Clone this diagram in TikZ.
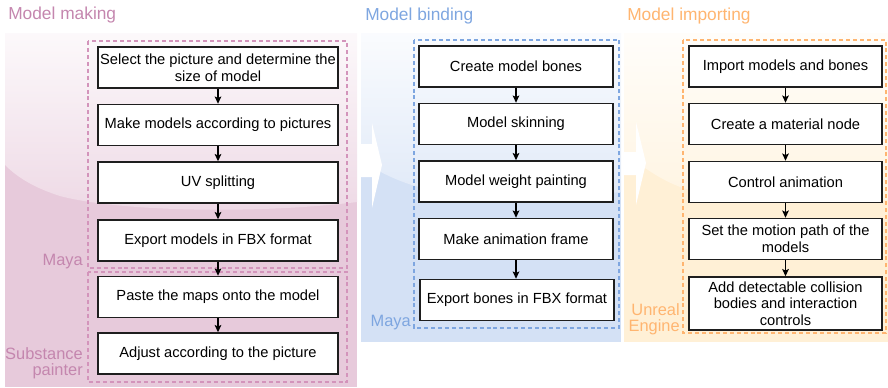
\documentclass[tikz,border=0pt]{standalone}
\usepackage{fontspec}
\setmainfont{Liberation Sans}
\usetikzlibrary{arrows.meta}
\definecolor{pinkbase}{HTML}{E7CADB}
\definecolor{bluebase}{HTML}{D4E1F5}
\definecolor{orangebase}{HTML}{FFF0D6}
\definecolor{pinktext}{HTML}{C486AE}
\definecolor{pinkdash}{HTML}{D394BB}
\definecolor{bluetext}{HTML}{7EA6E0}
\definecolor{orangetext}{HTML}{FFB570}
\definecolor{boxline}{HTML}{1E1E1E}
\newcommand\boxfont{\fontsize{11pt}{12.5pt}\selectfont}
\newcommand\titlefont{\fontsize{13pt}{15pt}\selectfont}
\newcommand\lblfont{\fontsize{12.3pt}{12.6pt}\selectfont}
\begin{document}
\begin{tikzpicture}[x=0.75pt,y=-0.75pt,
  box/.style={draw=boxline, line width=1.1pt, fill=white, minimum height=30.75pt,
    inner sep=1pt, align=center, font=\boxfont, text=black},
  pbox/.style={box, minimum width=180pt},
  bbox/.style={box, minimum width=145.5pt},
  obox/.style={box, minimum width=144.75pt},
  arr/.style={-{Stealth[length=5.5pt,width=5pt,inset=1.2pt]}, line width=0.9pt, draw=black},
  grp/.style={line width=0.8pt, dash pattern=on 3pt off 2.2pt},
  title/.style={font=\titlefont, inner sep=0pt, anchor=base west},
  lbl/.style={font=\lblfont, inner sep=0pt, align=right}
]
\useasboundingbox (0,0) rectangle (888,387);

% ---------- panels ----------
\fill[pinkbase] (5,33) rectangle (357,387);
\shade[top color=pinkbase!12!white, bottom color=pinkbase!72!white]
  (5,33) -- (357,33) -- (357,202) .. controls (260,214) and (120,212) .. (60,196)
  .. controls (35,188) and (18,178) .. (5,165) -- cycle;

\fill[bluebase] (361,33) rectangle (621,342);
\shade[top color=bluebase!12!white, bottom color=bluebase!72!white]
  (361,33) -- (621,33) -- (621,192) .. controls (540,200) and (450,195) .. (415,186)
  .. controls (395,180) and (375,170) .. (361,160) -- cycle;
\fill[white] (361,144) -- (372,144) -- (372,123) -- (382,165) -- (372,208) -- (372,177) -- (361,177) -- cycle;

\fill[orangebase] (624,33) rectangle (888,342);
\shade[top color=orangebase!12!white, bottom color=orangebase!72!white]
  (624,33) -- (888,33) -- (888,200) .. controls (800,205) and (720,198) .. (683,188)
  .. controls (660,180) and (640,165) .. (624,152) -- cycle;
\fill[white] (624,152) -- (636,152) -- (636,122) -- (646,163) -- (636,205) -- (636,175) -- (624,175) -- cycle;

% ---------- titles ----------
\node[title, text=pinktext] (t1) at (8,19) {Model making};
\node[title, text=bluetext] (t2) at (365,20) {Model binding};
\node[title, text=orangetext] (t3) at (627,20) {Model importing};

% ---------- group frames ----------
\draw[grp, draw=pinkdash] (88,41) rectangle (347,268);
\draw[grp, draw=pinkdash] (88,272) rectangle (347,382);
\draw[grp, draw=bluetext] (414,40) rectangle (619,328);
\draw[grp, draw=orangetext] (683,40) rectangle (886,333);

% ---------- group labels ----------
\node[lbl, text=pinktext, anchor=base east] (l1) at (83,265) {Maya};
\node[lbl, text=pinktext, anchor=south east] (l2) at (83,379.5) {Substance\\painter};
\node[lbl, text=bluetext, anchor=base east] (l3) at (411,326) {Maya};
\node[lbl, text=orangetext, anchor=south east] (l4) at (680,335.5) {Unreal\\Engine};

% ---------- model making ----------
\node[pbox] (p1) at (218,67.5) {Select the picture and determine the\\size of model};
\node[pbox] (p2) at (218,125) {Make models according to pictures};
\node[pbox] (p3) at (218,182.5) {UV splitting};
\node[pbox] (p4) at (218,240.5) {Export models in FBX format};
\node[pbox] (p5) at (218,297) {Paste the maps onto the model};
\node[pbox] (p6) at (218,353.5) {Adjust according to the picture};
\draw[arr] (p1) -- (p2);
\draw[arr] (p2) -- (p3);
\draw[arr] (p3) -- (p4);
\draw[arr] (p4) -- (p5);
\draw[arr] (p5) -- (p6);

% ---------- model binding ----------
\node[bbox] (b1) at (516,66.5) {Create model bones};
\node[bbox] (b2) at (516,124) {Model skinning};
\node[bbox] (b3) at (516,181.5) {Model weight painting};
\node[bbox] (b4) at (516,239) {Make animation frame};
\node[bbox] (b5) at (517,300) {Export bones in FBX format};
\draw[arr] (b1) -- (b2);
\draw[arr] (b2) -- (b3);
\draw[arr] (b3) -- (b4);
\draw[arr] (b4) -- (b4|-b5.north);

% ---------- model importing ----------
\node[obox] (o1) at (785.5,66.5) {Import models and bones};
\node[obox] (o2) at (785.5,124) {Create a material node};
\node[obox] (o3) at (785.5,182) {Control animation};
\node[obox] (o4) at (785.5,239) {Set the motion path of the\\models};
\node[obox, minimum height=39.75pt] (o5) at (785.5,303.5) {Add detectable collision\\bodies and interaction\\controls};
\draw[arr] (o1) -- (o2);
\draw[arr] (o2) -- (o3);
\draw[arr] (o3) -- (o4);
\draw[arr] (o4) -- (o5);
\end{tikzpicture}
\end{document}
